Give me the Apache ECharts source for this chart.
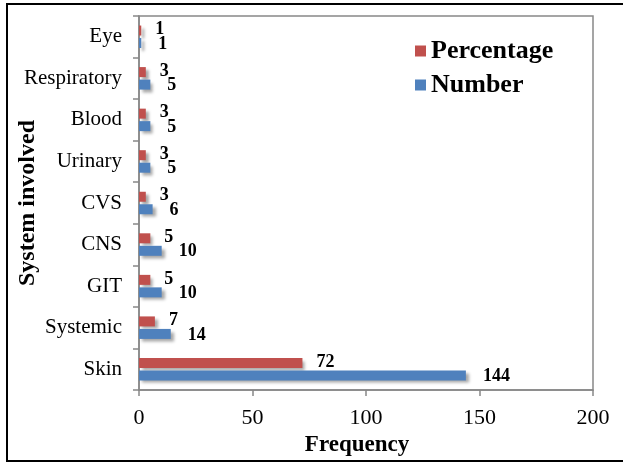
<!DOCTYPE html>
<html>
<head>
<meta charset="utf-8">
<script src="https://cdn.jsdelivr.net/npm/echarts@6/dist/echarts.min.js"></script>
<style>
  html, body { margin: 0; padding: 0; background: #fff; }
  #chart { width: 623px; height: 464px; }
</style>
</head>
<body>
<div id="chart"></div>
<script>
// data, bottom category first
var systems = ["Skin", "Systemic", "GIT", "CNS", "CVS", "Urinary", "Blood", "Respiratory", "Eye"];
var percentage = [72, 7, 5, 5, 3, 3, 3, 3, 1];
var number = [144, 14, 10, 10, 6, 5, 5, 5, 1];
var freqTicks = [0, 50, 100, 150, 200];

var serif = "'Liberation Serif', 'Times New Roman', serif";
var chart = echarts.init(document.getElementById("chart"));

var shadow = {
  shadowColor: "rgba(0,0,0,0.35)",
  shadowBlur: 3,
  shadowOffsetX: 3,
  shadowOffsetY: 3
};

chart.setOption({
  animation: false,
  graphic: [{
    type: "rect",
    shape: { x: 7, y: 4, width: 630, height: 457 },
    style: { fill: "none", stroke: "#000", lineWidth: 2 },
    silent: true
  }],
  legend: {
    orient: "vertical",
    left: 410,
    top: 33,
    itemWidth: 11,
    itemHeight: 11,
    itemGap: 8,
    icon: "rect",
    data: ["Percentage", "Number"],
    textStyle: { fontFamily: serif, fontWeight: "bold", fontSize: 26, color: "#000" }
  },
  grid: {
    left: 139, top: 16, right: 30, bottom: 74,
    containLabel: false,
    outerBoundsMode: "none",
    show: true, borderColor: "#888", borderWidth: 1.5
  },
  xAxis: {
    type: "value",
    min: freqTicks[0],
    max: freqTicks[freqTicks.length - 1],
    interval: 50,
    name: "Frequency",
    nameLocation: "middle",
    nameGap: 40,
    nameTextStyle: {
      fontFamily: serif, fontWeight: "bold", fontSize: 23, color: "#000",
      padding: [0, 18, 0, 0]
    },
    axisLine: { show: true, lineStyle: { color: "#888", width: 1.5 } },
    axisTick: { show: true, length: 6, lineStyle: { color: "#888", width: 1.5 } },
    axisLabel: { fontFamily: serif, fontSize: 22, color: "#000", margin: 17 },
    splitLine: { show: false }
  },
  yAxis: {
    type: "category",
    data: systems,
    name: "System involved",
    nameLocation: "middle",
    nameRotate: 90,
    nameGap: 99,
    nameMoveOverlap: false,
    nameTextStyle: { fontFamily: serif, fontWeight: "bold", fontSize: 24, color: "#000" },
    axisLine: { show: true, lineStyle: { color: "#888", width: 1.5 } },
    axisTick: { show: true, length: 6, lineStyle: { color: "#888", width: 1.5 } },
    axisLabel: { fontFamily: serif, fontSize: 21, color: "#000", margin: 17 }
  },
  series: [
    {
      name: "Percentage",
      type: "bar",
      data: percentage,
      barWidth: 10,
      barGap: "25%",
      itemStyle: Object.assign({ color: "#C0504D" }, shadow),
      label: {
        show: true,
        position: "right",
        distance: 14,
        offset: [0, -1],
        fontFamily: serif, fontWeight: "bold", fontSize: 18, color: "#000"
      }
    },
    {
      name: "Number",
      type: "bar",
      data: number,
      barWidth: 10,
      itemStyle: Object.assign({ color: "#4F81BD" }, shadow),
      label: {
        show: true,
        position: "right",
        distance: 17,
        offset: [0, 1],
        fontFamily: serif, fontWeight: "bold", fontSize: 18, color: "#000"
      }
    }
  ]
});
</script>
</body>
</html>
